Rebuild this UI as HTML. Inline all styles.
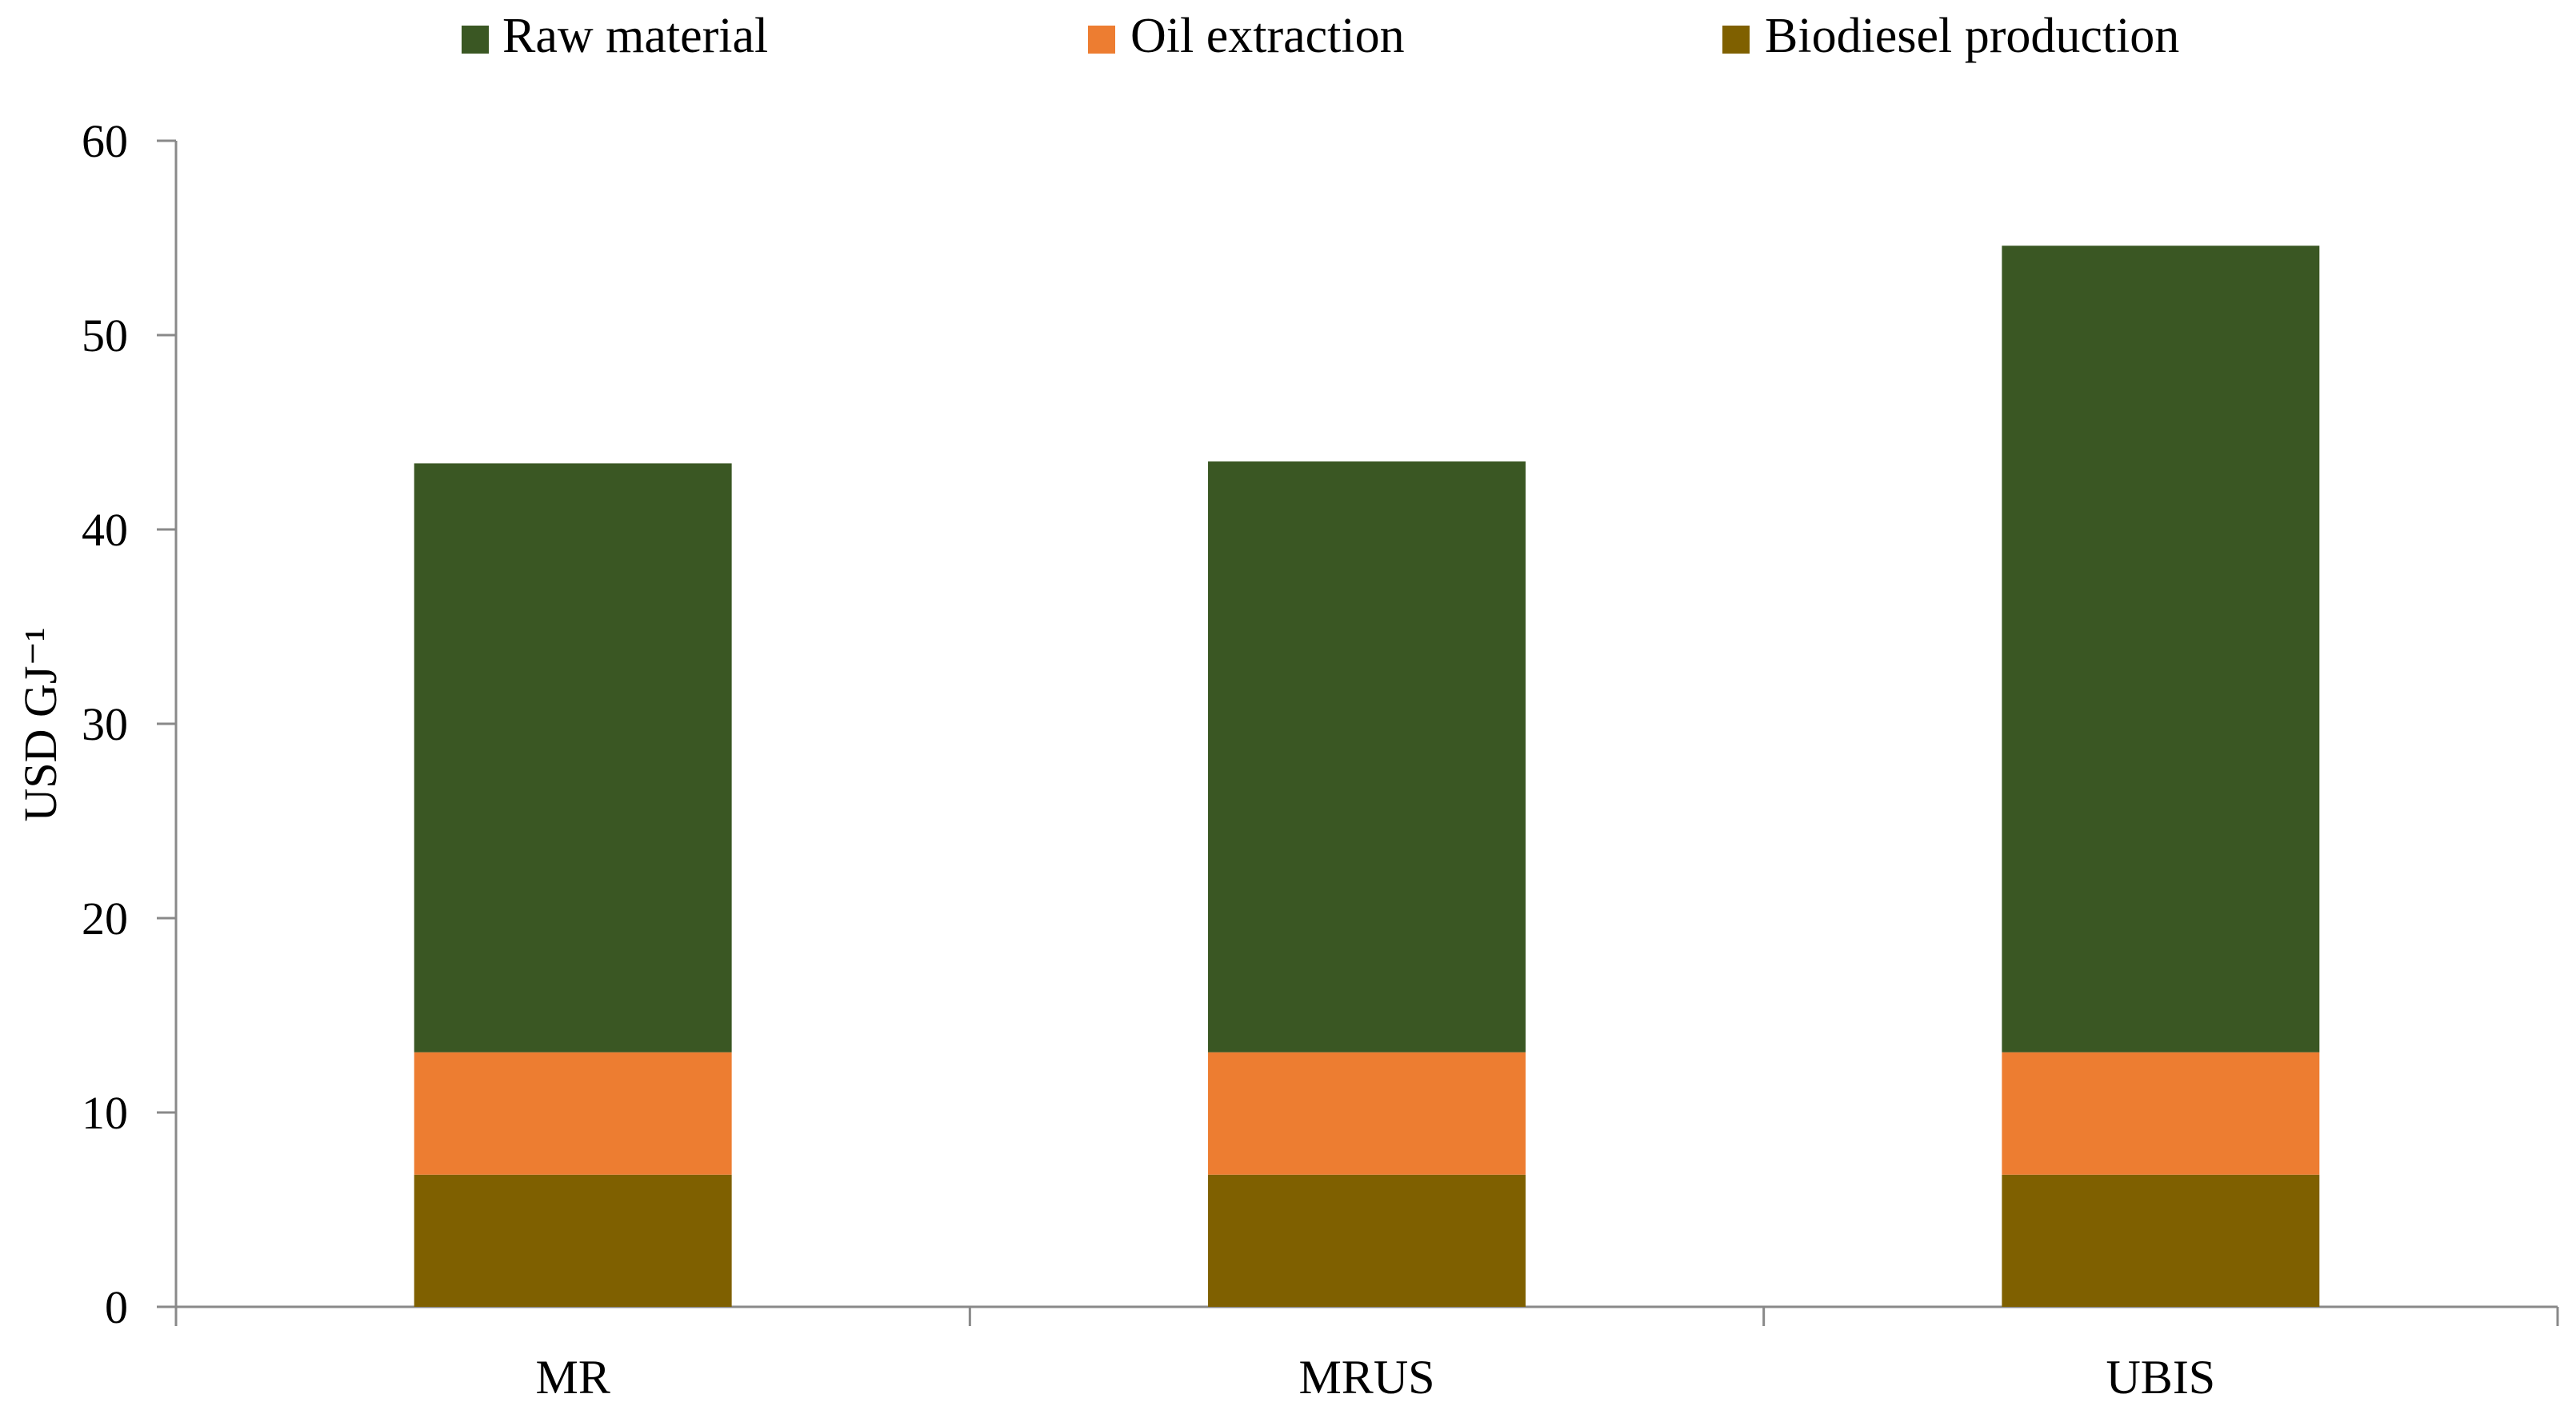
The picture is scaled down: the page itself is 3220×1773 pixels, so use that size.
<!DOCTYPE html>
<html><head><meta charset="utf-8"><style>
html,body{margin:0;padding:0;background:#fff;}
svg text{font-family:"Liberation Serif",serif;fill:#000;}
</style></head><body>
<svg id="chart" width="3220" height="1768" viewBox="0 0 3220 1768" xmlns="http://www.w3.org/2000/svg">
<g id="legend">
 <g><rect x="577" y="32" width="34" height="35" fill="#3a5723"/><text x="628" y="65" font-size="62">Raw material</text></g>
 <g><rect x="1360" y="32" width="34" height="35" fill="#ed7d31"/><text x="1413" y="65" font-size="62">Oil extraction</text></g>
 <g><rect x="2153" y="32" width="34" height="35" fill="#7f6000"/><text x="2206" y="65" font-size="62">Biodiesel production</text></g>
</g>
<text transform="translate(70,906) rotate(-90)" text-anchor="middle" font-size="58">USD GJ⁻¹</text>
<g id="axes"></g>
<g id="bars"></g>
</svg>
<script>
const categories = ["MR","MRUS","UBIS"];
const biodiesel = [6.8, 6.8, 6.8];
const oilExtraction = [6.3, 6.3, 6.3];
const rawMaterial = [30.3, 30.4, 41.5];
const yTicks = [0,10,20,30,40,50,60];
const seriesNames = ["biodiesel-production","oil-extraction","raw-material"];
const seriesColors = ["#7f6000","#ed7d31","#3a5723"];

const NS="http://www.w3.org/2000/svg";
const x0=220, x1=3197, y0=1634, y60=176;
const yScale=v=>y0-(v/60)*(y0-y60);
const band=(x1-x0)/categories.length;
const xCenter=i=>x0+band*(i+0.5);
const barW=band*0.4;
const axes=document.getElementById('axes');
const bars=document.getElementById('bars');
function mk(tag,attrs,parent){const e=document.createElementNS(NS,tag);for(const k in attrs)e.setAttribute(k,attrs[k]);parent.appendChild(e);return e;}
const yAxis=mk('line',{x1:x0,y1:y60,x2:x0,y2:y0+24,stroke:'#898989','stroke-width':3},axes);


const xAxis=mk('line',{x1:x0-24,y1:y0,x2:x1,y2:y0,stroke:'#898989','stroke-width':3},axes);


yTicks.forEach(v=>{
 const t=mk('line',{x1:x0-24,y1:yScale(v),x2:x0,y2:yScale(v),stroke:'#898989','stroke-width':3},axes);
 
 
 const l=mk('text',{x:160,y:yScale(v)+20,'text-anchor':'end','font-size':58},axes);
 l.textContent=v;
 
 
});
for(let i=1;i<=categories.length;i++){
 const t=mk('line',{x1:x0+band*i,y1:y0,x2:x0+band*i,y2:y0+24,stroke:'#898989','stroke-width':3},axes);
 
 
}
const series=[biodiesel,oilExtraction,rawMaterial];
categories.forEach((c,i)=>{
 let base=0;
 series.forEach((s,j)=>{
  const top=base+s[i];
  const r=mk('rect',{x:xCenter(i)-barW/2,y:yScale(top),width:barW,height:yScale(base)-yScale(top),fill:seriesColors[j]},bars);
  
  
  base=top;
 });
 const l=mk('text',{x:xCenter(i),y:1742,'text-anchor':'middle','font-size':60},axes);
 l.textContent=c;
 
 
});
</script>
</body></html>
